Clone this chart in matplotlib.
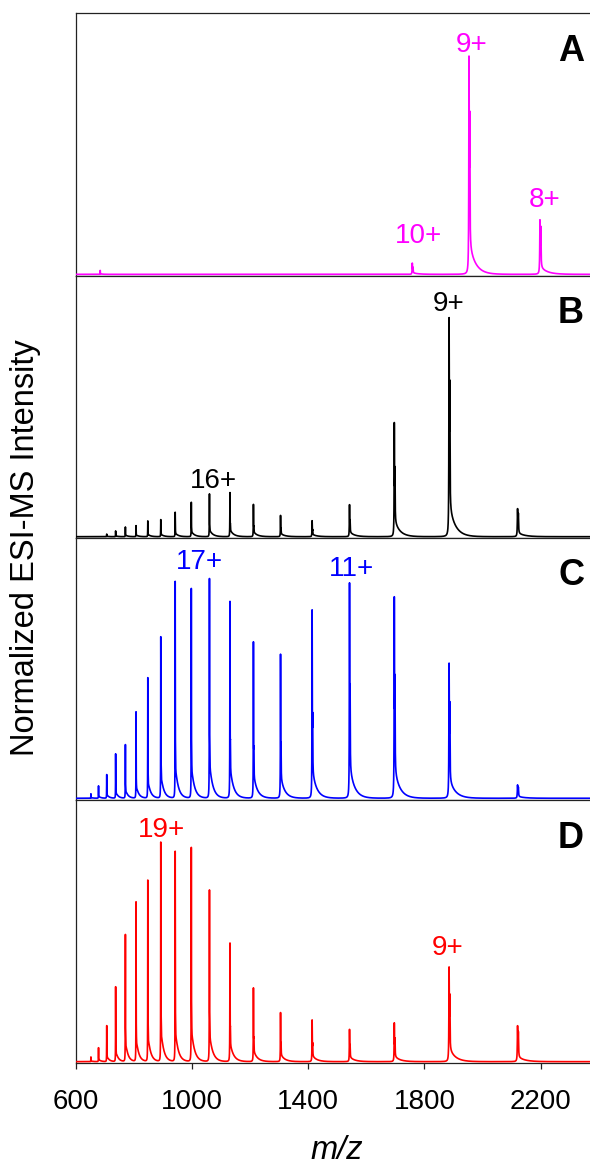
import numpy as np
import matplotlib
matplotlib.use("Agg")
import matplotlib.pyplot as plt

plt.rcParams['font.family'] = ['Liberation Sans', 'DejaVu Sans']

# ---------------- data ----------------
# Panel A : charge states of the heavier species
a_mz = [685.0, 1758.0, 1953.0, 2197.0]
a_int = [0.015, 0.043, 0.832, 0.208]

# Panels B-D : charge states 26+ ... 8+
apo_charges = [26, 25, 24, 23, 22, 21, 20, 19, 18, 17, 16, 15, 14, 13, 12, 11, 10, 9, 8]
apo_mz = [653.0, 679.1, 707.3, 738.0, 771.5, 808.2, 848.6, 893.2, 942.8, 998.2,
          1060.5, 1131.1, 1211.8, 1305.0, 1413.6, 1542.1, 1696.2, 1884.5, 2119.9]
b_int = [0.0, 0.0, 0.010, 0.022, 0.037, 0.042, 0.060, 0.065, 0.093, 0.131,
         0.163, 0.168, 0.123, 0.081, 0.061, 0.122, 0.435, 0.835, 0.107]
c_int = [0.017, 0.047, 0.090, 0.169, 0.204, 0.329, 0.459, 0.615, 0.826, 0.799,
         0.837, 0.750, 0.596, 0.549, 0.718, 0.821, 0.768, 0.515, 0.051]
d_int = [0.018, 0.053, 0.137, 0.285, 0.484, 0.608, 0.691, 0.836, 0.801, 0.816,
         0.654, 0.452, 0.281, 0.187, 0.159, 0.123, 0.148, 0.361, 0.137]

panel_letters = ['A', 'B', 'C', 'D']
panel_colors = ['#FF00FF', '#000000', '#0000FF', '#FF0000']

# charge-state annotations: (text, m/z, height)
a_labels = [('9+', 1962, 0.854), ('10+', 1781, 0.126), ('8+', 2212, 0.261)]
b_labels = [('9+', 1883, 0.867), ('16+', 1073, 0.189)]
c_labels = [('17+', 1026, 0.881), ('11+', 1548.5, 0.857)]
d_labels = [('19+', 894, 0.859), ('9+', 1880, 0.409)]

x_ticks = [600, 1000, 1400, 1800, 2200]

# ---------------- spectrum rendering ----------------
mz_grid = np.arange(600.0, 2400.0, 0.2)


def lorentz(x, x0, g):
    return g * g / ((x - x0) ** 2 + g * g)


def render(mz, inten, base):
    y = np.full_like(mz_grid, base)
    for m, h in zip(mz, inten):
        if h <= 0:
            continue
        g = 0.0004 * m
        r2 = max(0.06, 0.08 + (m - 1060.0) * 0.00058)
        dx = np.clip(mz_grid - m, 0, None)
        tail = np.where(mz_grid > m, 0.15 * (1 - np.exp(-dx / 1.5))
                        * np.exp(-dx / (0.011 * m)), 0.0)
        prof = (lorentz(mz_grid, m, g)
                + r2 * lorentz(mz_grid, m + 0.0013 * m, g) + tail)
        prof = prof / prof.max()
        y += h * prof
    return y


spectra = [
    render(a_mz, a_int, 0.005),
    render(apo_mz, b_int, 0.005),
    render(apo_mz, c_int, 0.008),
    render(apo_mz, d_int, 0.004),
]
labels = [a_labels, b_labels, c_labels, d_labels]

# ---------------- figure ----------------
W, H = 590, 1166
fig = plt.figure(figsize=(W / 100, H / 100), dpi=100)

left_px, right_px = 75.5, 599.0
top_px, panel_h = 13.3, 262.35

axes = []
for i in range(4):
    y_top = top_px + i * panel_h
    ax = fig.add_axes([left_px / W, 1 - (y_top + panel_h) / H,
                       (right_px - left_px) / W, panel_h / H])
    axes.append(ax)
    ax.plot(mz_grid, spectra[i], color=panel_colors[i], lw=1.2, zorder=3)
    ax.set_xlim(600, 2400)
    ax.set_ylim(0, 1)
    ax.set_yticks([])
    for s in ax.spines.values():
        s.set_linewidth(0.9)
        s.set_color('#222222')
    ax.spines['right'].set_visible(False)
    for txt, xm, yh in labels[i]:
        ax.text(xm, yh, txt, color=panel_colors[i], fontsize=20,
                ha='center', va='baseline')
    ax.text(2304, 0.82, panel_letters[i], fontsize=26, fontweight='bold',
            ha='center', va='baseline', color='black')
    if i < 3:
        ax.set_xticks([])
    else:
        ax.set_xticks(x_ticks)
        ax.tick_params(axis='x', direction='out', length=4.5, width=0.9,
                       labelsize=20, pad=14.5, color='#222222')
        ax.set_xlabel('m/z', fontsize=23.5, style='italic', labelpad=14.5)

fig.text(26 / W, 1 - 547.5 / H, 'Normalized ESI-MS Intensity', rotation=90,
         ha='center', va='center', fontsize=23.5)

fig.savefig('out.png', dpi=100)
